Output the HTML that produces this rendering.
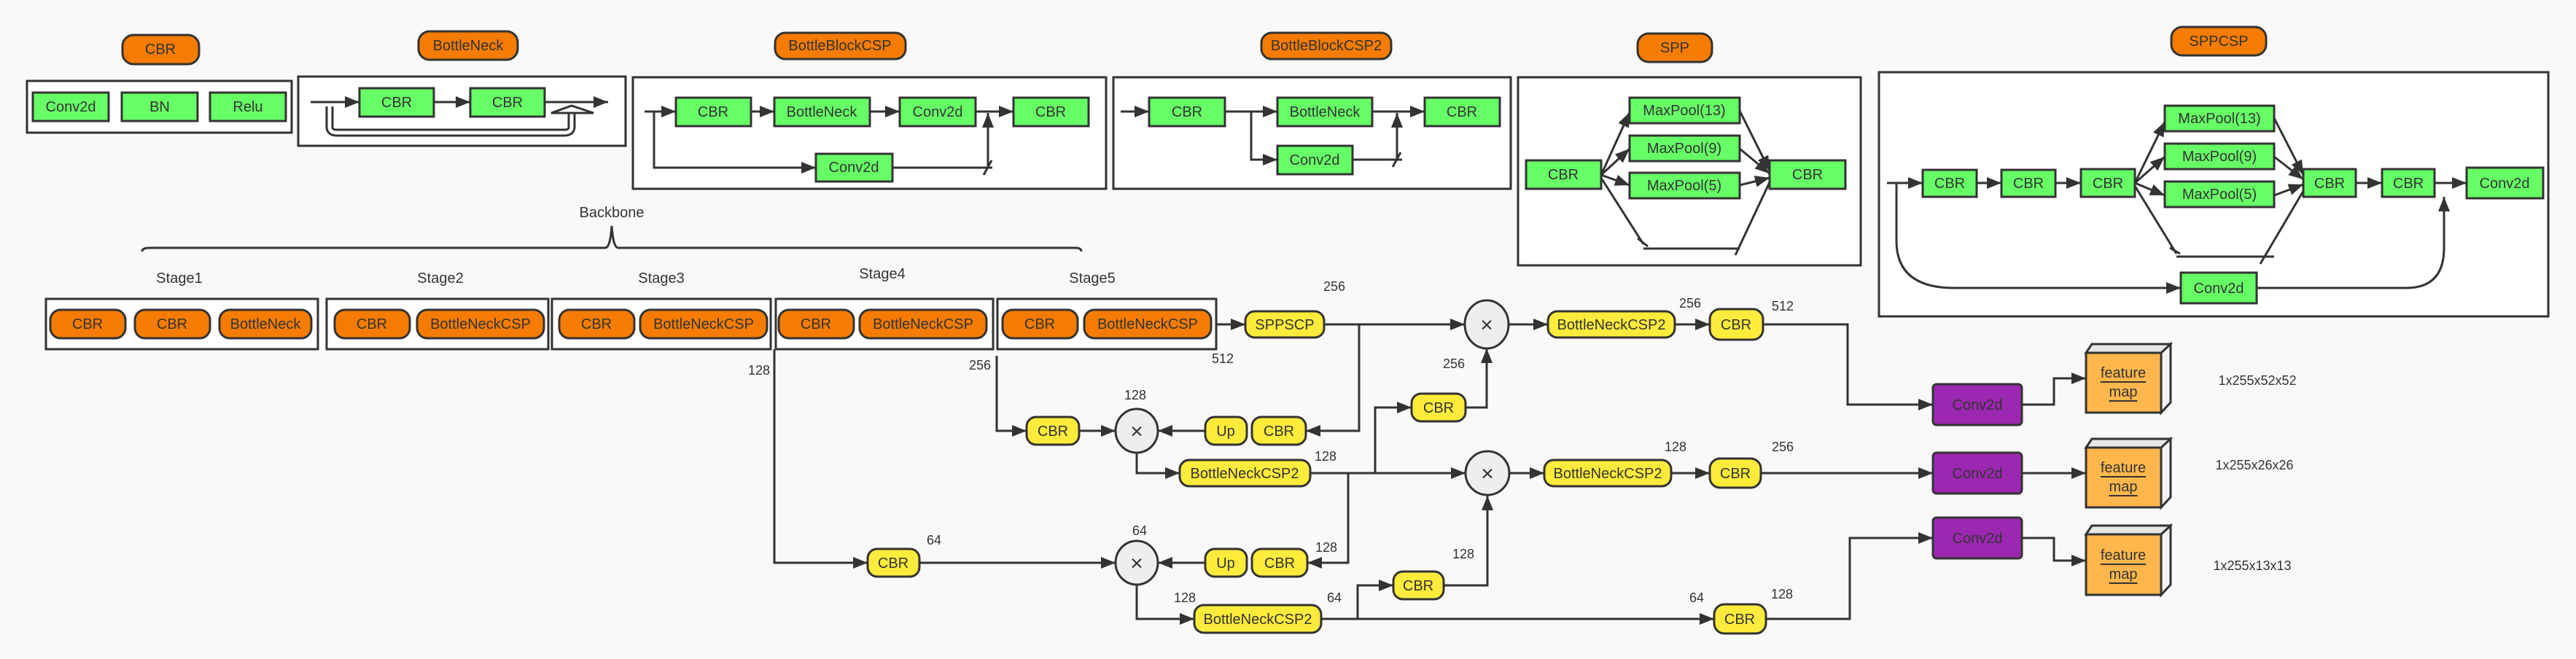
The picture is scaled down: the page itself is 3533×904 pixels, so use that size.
<!DOCTYPE html>
<html><head><meta charset="utf-8"><style>
html,body{margin:0;padding:0;background:#f9f9f9;}
svg{display:block;font-family:"Liberation Sans",Arial,sans-serif;}
text{fill:#333;font-size:20px;text-anchor:middle;dominant-baseline:central;}
.l{font-size:18px;}
.o{fill:#f57c00;stroke:#333;stroke-width:3;}
.g{fill:#66ff66;stroke:#333;stroke-width:3;}
.y{fill:#ffeb3b;stroke:#333;stroke-width:3;}
.p{fill:#9c27b0;stroke:#333;stroke-width:3;}
.c{fill:#fff;stroke:#333;stroke-width:3;}
.w{fill:none;stroke:#333;stroke-width:3;}
</style></head><body>
<svg width="3533" height="904" viewBox="0 0 3533 904" xmlns="http://www.w3.org/2000/svg">
<defs><marker id="a" markerWidth="20" markerHeight="16" refX="20" refY="8" orient="auto" markerUnits="userSpaceOnUse"><path d="M0,0L20,8L0,16z" fill="#333"/></marker></defs>
<rect width="3533" height="904" fill="#f9f9f9"/>

<!-- CBR -->
<rect class="o" x="168" y="48" width="105" height="40" rx="15"/><text x="220" y="68">CBR</text>
<rect class="c" x="37" y="111" width="363" height="71"/>
<rect class="g" x="45" y="127" width="104" height="39"/><text x="97" y="147">Conv2d</text>
<rect class="g" x="167" y="127" width="104" height="39"/><text x="219" y="147">BN</text>
<rect class="g" x="288" y="127" width="104" height="39"/><text x="340" y="147">Relu</text>

<!-- BottleNeck -->
<rect class="o" x="574" y="43" width="136" height="39" rx="15"/><text x="642" y="63">BottleNeck</text>
<rect class="c" x="409" y="105" width="449" height="95"/>
<rect class="g" x="493" y="121" width="102" height="39"/><text x="544" y="141">CBR</text>
<rect class="g" x="645" y="121" width="102" height="39"/><text x="696" y="141">CBR</text>
<path class="w" d="M426,140H493" marker-end="url(#a)"/>
<path class="w" d="M595,140H645" marker-end="url(#a)"/>
<path class="w" d="M747,140H834" marker-end="url(#a)"/>
<path d="M452,146V174Q452,182 462,182H774Q784,182 784,174V152" fill="none" stroke="#333" stroke-width="11"/>
<path d="M452,146V174Q452,182 462,182H774Q784,182 784,174V152" fill="none" stroke="#fff" stroke-width="5"/>
<polygon points="756,155 784,145 814,155" fill="#fff" stroke="#333" stroke-width="3"/>

<!-- BottleBlockCSP -->
<rect class="o" x="1063" y="45" width="179" height="36" rx="14"/><text x="1152" y="63">BottleBlockCSP</text>
<rect class="c" x="868" y="106" width="649" height="153"/>
<rect class="g" x="927" y="134" width="103" height="39"/><text x="978" y="154">CBR</text>
<rect class="g" x="1062" y="134" width="131" height="39"/><text x="1127" y="154">BottleNeck</text>
<rect class="g" x="1234" y="134" width="104" height="39"/><text x="1286" y="154">Conv2d</text>
<rect class="g" x="1390" y="134" width="103" height="39"/><text x="1441" y="154">CBR</text>
<rect class="g" x="1119" y="211" width="105" height="38"/><text x="1171" y="230">Conv2d</text>
<path class="w" d="M884,153H927" marker-end="url(#a)"/>
<path class="w" d="M1030,153H1062" marker-end="url(#a)"/>
<path class="w" d="M1193,153H1234" marker-end="url(#a)"/>
<path class="w" d="M1338,153H1390" marker-end="url(#a)"/>
<path class="w" d="M897,153V230H1119" marker-end="url(#a)"/>
<path class="w" d="M1224,230H1361M1349,240L1360,220"/>
<path class="w" d="M1355,230V155" marker-end="url(#a)"/>

<!-- BottleBlockCSP2 -->
<rect class="o" x="1730" y="45" width="178" height="36" rx="14"/><text x="1819" y="63">BottleBlockCSP2</text>
<rect class="c" x="1527" y="106" width="545" height="153"/>
<rect class="g" x="1576" y="134" width="104" height="39"/><text x="1628" y="154">CBR</text>
<rect class="g" x="1752" y="134" width="130" height="39"/><text x="1817" y="154">BottleNeck</text>
<rect class="g" x="1954" y="134" width="103" height="39"/><text x="2005" y="154">CBR</text>
<rect class="g" x="1752" y="200" width="103" height="39"/><text x="1803" y="220">Conv2d</text>
<path class="w" d="M1537,153H1576" marker-end="url(#a)"/>
<path class="w" d="M1680,153H1752" marker-end="url(#a)"/>
<path class="w" d="M1882,153H1954" marker-end="url(#a)"/>
<path class="w" d="M1716,153V219H1752" marker-end="url(#a)"/>
<path class="w" d="M1855,219H1923M1910,229L1921,209"/>
<path class="w" d="M1916,219V155" marker-end="url(#a)"/>

<!-- SPP -->
<rect class="o" x="2246" y="46" width="102" height="39" rx="15"/><text x="2297" y="66">SPP</text>
<rect class="c" x="2082" y="106" width="470" height="258"/>
<rect class="g" x="2093" y="220" width="103" height="39"/><text x="2144" y="240">CBR</text>
<rect class="g" x="2235" y="134" width="151" height="35"/><text x="2310" y="152">MaxPool(13)</text>
<rect class="g" x="2235" y="186" width="151" height="35"/><text x="2310" y="204">MaxPool(9)</text>
<rect class="g" x="2235" y="237" width="151" height="35"/><text x="2310" y="255">MaxPool(5)</text>
<rect class="g" x="2427" y="220" width="104" height="39"/><text x="2479" y="240">CBR</text>
<path class="w" d="M2196,240L2235,154" marker-end="url(#a)"/>
<path class="w" d="M2196,240L2235,204" marker-end="url(#a)"/>
<path class="w" d="M2196,240L2235,254" marker-end="url(#a)"/>
<path class="w" d="M2196,244L2254,335M2246,327L2260,338M2254,341H2386M2380,350L2427,250" />
<path class="w" d="M2386,152L2427,234" marker-end="url(#a)"/>
<path class="w" d="M2386,204L2427,238" marker-end="url(#a)"/>
<path class="w" d="M2386,254L2427,244" marker-end="url(#a)"/>

<!-- SPPCSP -->
<rect class="o" x="2978" y="37" width="130" height="39" rx="15"/><text x="3043" y="57">SPPCSP</text>
<rect class="c" x="2577" y="99" width="918" height="335"/>
<rect class="g" x="2637" y="233" width="74" height="37"/><text x="2674" y="252">CBR</text>
<rect class="g" x="2745" y="233" width="74" height="37"/><text x="2782" y="252">CBR</text>
<rect class="g" x="2854" y="232" width="74" height="38"/><text x="2891" y="252">CBR</text>
<rect class="g" x="2969" y="145" width="150" height="35"/><text x="3044" y="163">MaxPool(13)</text>
<rect class="g" x="2969" y="197" width="150" height="35"/><text x="3044" y="215">MaxPool(9)</text>
<rect class="g" x="2969" y="249" width="150" height="35"/><text x="3044" y="267">MaxPool(5)</text>
<rect class="g" x="3159" y="232" width="72" height="38"/><text x="3195" y="252">CBR</text>
<rect class="g" x="3267" y="232" width="72" height="38"/><text x="3303" y="252">CBR</text>
<rect class="g" x="3383" y="230" width="105" height="42"/><text x="3435" y="252">Conv2d</text>
<rect class="g" x="2991" y="374" width="104" height="42"/><text x="3043" y="396">Conv2d</text>
<path class="w" d="M2588,251H2637" marker-end="url(#a)"/>
<path class="w" d="M2711,251H2745" marker-end="url(#a)"/>
<path class="w" d="M2819,251H2854" marker-end="url(#a)"/>
<path class="w" d="M3231,251H3267" marker-end="url(#a)"/>
<path class="w" d="M3339,251H3383" marker-end="url(#a)"/>
<path class="w" d="M2928,251L2969,167" marker-end="url(#a)"/>
<path class="w" d="M2928,251L2969,215" marker-end="url(#a)"/>
<path class="w" d="M2928,251L2969,268" marker-end="url(#a)"/>
<path class="w" d="M2928,255L2985,348M2976,340L2990,348M2985,352H3119M3100,362L3159,262"/>
<path class="w" d="M3119,162L3159,240" marker-end="url(#a)"/>
<path class="w" d="M3119,215L3159,246" marker-end="url(#a)"/>
<path class="w" d="M3119,268L3159,253" marker-end="url(#a)"/>
<path class="w" d="M2601,251V330Q2601,395 2680,395H2991" marker-end="url(#a)"/>
<path class="w" d="M3095,395H3300Q3352,395 3352,340V270" marker-end="url(#a)"/>

<!-- Backbone -->
<text x="839" y="292">Backbone</text>
<path class="w" d="M195,345Q195,340 205,340H830Q837,340 839,310Q841,340 848,340H1475Q1483,340 1483,345"/>
<text x="246" y="382">Stage1</text><text x="604" y="382">Stage2</text><text x="907" y="382">Stage3</text><text x="1210" y="376">Stage4</text><text x="1498" y="382">Stage5</text>
<rect class="c" x="63" y="410" width="373" height="69"/>
<rect class="c" x="448" y="410" width="304" height="69"/>
<rect class="c" x="757" y="410" width="300" height="69"/>
<rect class="c" x="1064" y="410" width="298" height="69"/>
<rect class="c" x="1368" y="410" width="300" height="69"/>
<rect class="o" x="69" y="425" width="103" height="39" rx="14"/><text x="120" y="445">CBR</text>
<rect class="o" x="185" y="425" width="103" height="39" rx="14"/><text x="236" y="445">CBR</text>
<rect class="o" x="301" y="425" width="126" height="39" rx="14"/><text x="364" y="445">BottleNeck</text>
<rect class="o" x="459" y="425" width="103" height="39" rx="14"/><text x="510" y="445">CBR</text>
<rect class="o" x="572" y="425" width="174" height="39" rx="14"/><text x="659" y="445">BottleNeckCSP</text>
<rect class="o" x="767" y="425" width="103" height="39" rx="14"/><text x="818" y="445">CBR</text>
<rect class="o" x="878" y="425" width="174" height="39" rx="14"/><text x="965" y="445">BottleNeckCSP</text>
<rect class="o" x="1068" y="425" width="103" height="39" rx="14"/><text x="1119" y="445">CBR</text>
<rect class="o" x="1179" y="425" width="174" height="39" rx="14"/><text x="1266" y="445">BottleNeckCSP</text>
<rect class="o" x="1375" y="425" width="103" height="39" rx="14"/><text x="1426" y="445">CBR</text>
<rect class="o" x="1487" y="425" width="174" height="39" rx="14"/><text x="1574" y="445">BottleNeckCSP</text>

<!-- Neck -->
<path class="w" d="M1668,445H1708" marker-end="url(#a)"/>
<rect class="y" x="1708" y="427" width="108" height="36" rx="13"/><text x="1762" y="446">SPPSCP</text>
<text class="l" x="1830" y="393">256</text>
<path class="w" d="M1816,445H2009" marker-end="url(#a)"/>
<ellipse cx="2039" cy="445" rx="30" ry="33" fill="#eee" stroke="#333" stroke-width="3"/><text x="2039" y="446" style="font-size:30px">×</text>
<path class="w" d="M2069,445H2123" marker-end="url(#a)"/>
<rect class="y" x="2123" y="427" width="174" height="36" rx="13"/><text x="2210" y="446">BottleNeckCSP2</text>
<text class="l" x="2318" y="416">256</text>
<path class="w" d="M2297,445H2345" marker-end="url(#a)"/>
<rect class="y" x="2345" y="424" width="73" height="42" rx="14"/><text x="2381" y="446">CBR</text>
<text class="l" x="2445" y="420">512</text>
<path class="w" d="M2418,445H2534V555H2651" marker-end="url(#a)"/>

<path class="w" d="M1864,445V591H1791" marker-end="url(#a)"/>
<rect class="y" x="1717" y="572" width="74" height="38" rx="13"/><text x="1754" y="592">CBR</text>
<rect class="y" x="1653" y="572" width="57" height="38" rx="13"/><text x="1681" y="592">Up</text>
<path class="w" d="M1653,591H1588" marker-end="url(#a)"/>
<path class="w" d="M1367,488V591H1408" marker-end="url(#a)"/>
<rect class="y" x="1408" y="572" width="72" height="38" rx="13"/><text x="1444" y="592">CBR</text>
<path class="w" d="M1480,591H1530" marker-end="url(#a)"/>
<ellipse cx="1559" cy="591" rx="29" ry="30" fill="#eee" stroke="#333" stroke-width="3"/><text x="1559" y="592" style="font-size:30px">×</text>
<text class="l" x="1344" y="501">256</text><text class="l" x="1677" y="492">512</text><text class="l" x="1041" y="508">128</text>
<text class="l" x="1557" y="542">128</text><text class="l" x="1994" y="499">256</text>

<path class="w" d="M1559,621V649H1618" marker-end="url(#a)"/>
<rect class="y" x="1618" y="631" width="179" height="36" rx="13"/><text x="1707" y="650">BottleNeckCSP2</text>
<text class="l" x="1818" y="626">128</text>
<path class="w" d="M1797,649H2010" marker-end="url(#a)"/>
<ellipse cx="2040" cy="649" rx="30" ry="30" fill="#eee" stroke="#333" stroke-width="3"/><text x="2040" y="650" style="font-size:30px">×</text>
<path class="w" d="M1886,649V559H1936" marker-end="url(#a)"/>
<rect class="y" x="1936" y="540" width="74" height="38" rx="13"/><text x="1973" y="560">CBR</text>
<path class="w" d="M2010,559H2039V478" marker-end="url(#a)"/>
<path class="w" d="M2070,649H2118" marker-end="url(#a)"/>
<rect class="y" x="2118" y="631" width="174" height="36" rx="13"/><text x="2205" y="650">BottleNeckCSP2</text>
<text class="l" x="2298" y="613">128</text>
<path class="w" d="M2292,649H2345" marker-end="url(#a)"/>
<rect class="y" x="2345" y="629" width="70" height="40" rx="14"/><text x="2380" y="650">CBR</text>
<text class="l" x="2445" y="613">256</text>
<path class="w" d="M2415,649H2651" marker-end="url(#a)"/>

<path class="w" d="M1849,649V772H1793" marker-end="url(#a)"/>
<rect class="y" x="1717" y="753" width="76" height="38" rx="13"/><text x="1755" y="773">CBR</text>
<rect class="y" x="1653" y="753" width="57" height="38" rx="13"/><text x="1681" y="773">Up</text>
<path class="w" d="M1653,772H1588" marker-end="url(#a)"/>
<path class="w" d="M1062,479V772H1190" marker-end="url(#a)"/>
<rect class="y" x="1190" y="753" width="71" height="38" rx="13"/><text x="1225" y="773">CBR</text>
<path class="w" d="M1261,772H1530" marker-end="url(#a)"/>
<ellipse cx="1559" cy="772" rx="29" ry="30" fill="#eee" stroke="#333" stroke-width="3"/><text x="1559" y="773" style="font-size:30px">×</text>
<text class="l" x="1281" y="741">64</text><text class="l" x="1563" y="728">64</text><text class="l" x="1819" y="751">128</text><text class="l" x="2007" y="760">128</text>
<path class="w" d="M1559,802V849H1638" marker-end="url(#a)"/>
<rect class="y" x="1638" y="830" width="174" height="38" rx="13"/><text x="1725" y="850">BottleNeckCSP2</text>
<text class="l" x="1625" y="820">128</text><text class="l" x="1830" y="820">64</text>
<path class="w" d="M1812,849H2351" marker-end="url(#a)"/>
<path class="w" d="M1862,849V803H1911" marker-end="url(#a)"/>
<rect class="y" x="1911" y="784" width="69" height="38" rx="13"/><text x="1945" y="804">CBR</text>
<path class="w" d="M1980,803H2040V680" marker-end="url(#a)"/>
<rect class="y" x="2351" y="829" width="71" height="40" rx="14"/><text x="2386" y="850">CBR</text>
<text class="l" x="2327" y="820">64</text><text class="l" x="2444" y="815">128</text>
<path class="w" d="M2422,849H2537V738H2651" marker-end="url(#a)"/>

<!-- Heads -->
<rect class="p" x="2651" y="527" width="122" height="56" rx="5"/><text x="2712" y="556">Conv2d</text>
<rect class="p" x="2651" y="621" width="122" height="56" rx="5"/><text x="2712" y="650">Conv2d</text>
<rect class="p" x="2651" y="710" width="122" height="56" rx="5"/><text x="2712" y="739">Conv2d</text>
<path class="w" d="M2773,555H2817V519H2861" marker-end="url(#a)"/>
<path class="w" d="M2773,649H2861" marker-end="url(#a)"/>
<path class="w" d="M2773,738H2817V769H2861" marker-end="url(#a)"/>

<g stroke="#333" stroke-width="3">
<polygon points="2861,484 2869,472 2977,472 2969,484" fill="#e6e6e6"/><polygon points="2964,484 2977,472 2977,552 2964,566" fill="#f2f2f2"/><rect x="2861" y="484" width="103" height="82" fill="#ffb74d"/>
<polygon points="2861,614 2869,602 2977,602 2969,614" fill="#e6e6e6"/><polygon points="2964,614 2977,602 2977,682 2964,696" fill="#f2f2f2"/><rect x="2861" y="614" width="103" height="82" fill="#ffb74d"/>
<polygon points="2861,733 2869,721 2977,721 2969,733" fill="#e6e6e6"/><polygon points="2964,733 2977,721 2977,802 2964,816" fill="#f2f2f2"/><rect x="2861" y="733" width="103" height="83" fill="#ffb74d"/>
</g>
<g style="text-decoration:underline">
<text x="2912" y="512" text-decoration="underline">feature</text><text x="2912" y="538" text-decoration="underline">map</text>
<text x="2912" y="642" text-decoration="underline">feature</text><text x="2912" y="668" text-decoration="underline">map</text>
<text x="2912" y="762" text-decoration="underline">feature</text><text x="2912" y="788" text-decoration="underline">map</text>
</g>
<text class="l" x="3096" y="522">1x255x52x52</text>
<text class="l" x="3092" y="638">1x255x26x26</text>
<text class="l" x="3089" y="776">1x255x13x13</text>
</svg>
</body></html>
